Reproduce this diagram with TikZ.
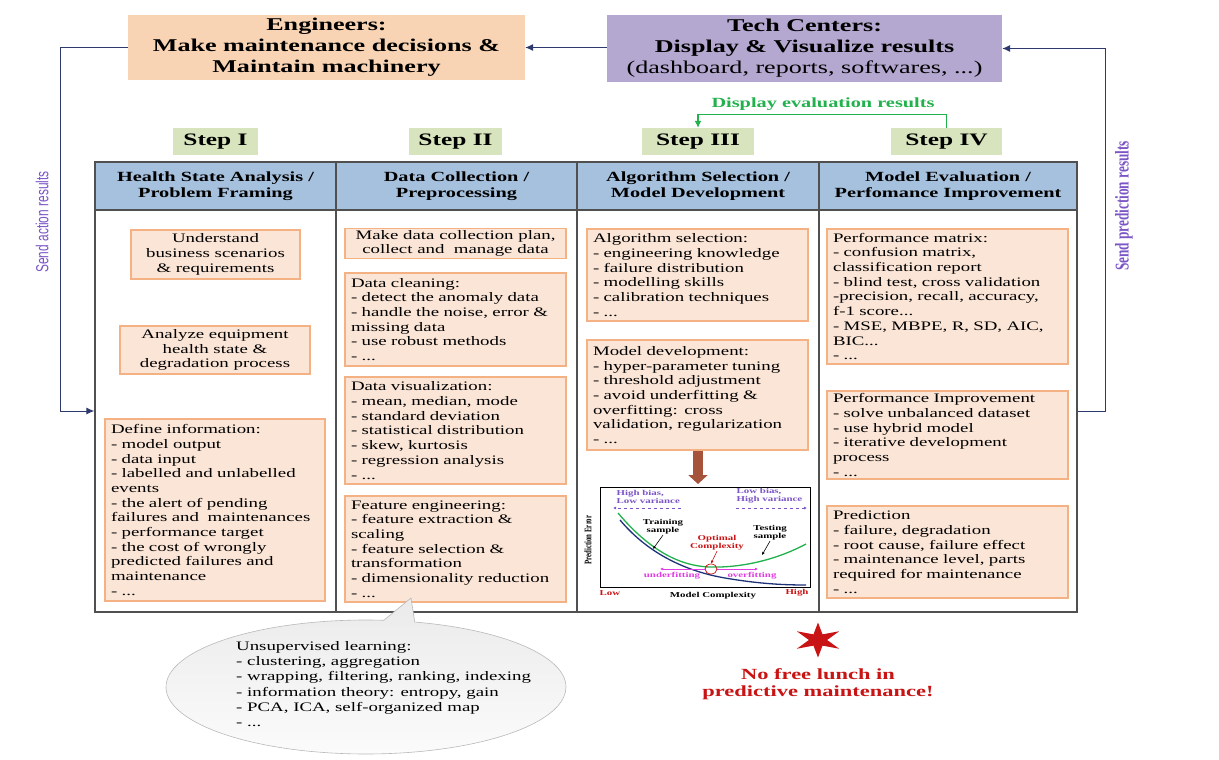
\documentclass[tikz,border=0pt]{standalone}
\usepackage{fontspec}
\setmainfont{Liberation Serif}[FakeStretch=1.45]
\newfontfamily\rotsans{Liberation Sans}[FakeStretch=0.68]
\newfontfamily\rotserif{Liberation Serif}[FakeStretch=0.68]
\usetikzlibrary{arrows.meta,shapes.callouts,shapes.geometric}
\definecolor{peach}{RGB}{248,212,180}
\definecolor{lav}{RGB}{180,167,208}
\definecolor{stepg}{RGB}{215,228,189}
\definecolor{hdrblue}{RGB}{166,193,221}
\definecolor{boxfill}{RGB}{251,229,214}
\definecolor{boxline}{RGB}{244,177,131}
\definecolor{navy}{RGB}{46,58,110}
\definecolor{purp}{RGB}{123,85,197}
\definecolor{greenc}{RGB}{34,177,76}
\definecolor{tgray}{RGB}{80,80,80}
\definecolor{brownc}{RGB}{165,83,58}
\definecolor{redc}{RGB}{200,20,20}
\definecolor{magc}{RGB}{225,60,225}
\definecolor{chartnavy}{RGB}{30,50,120}
\begin{document}
\begin{tikzpicture}[x=1pt,y=-1pt,
  topbox/.style={inner sep=0, align=center, font=\bfseries\fontsize{18}{21}\selectfont},
  stepbox/.style={fill=stepg, inner sep=0, minimum height=27, font=\bfseries\fontsize{17.5}{20}\selectfont},
  hdr/.style={draw=tgray, line width=1.4, fill=hdrblue, minimum height=48, inner sep=0, align=center, font=\bfseries\fontsize{14}{16}\selectfont},
  col/.style={draw=tgray, line width=1.4, minimum height=402, inner sep=0},
  tbox/.style={draw=boxline, fill=boxfill, line width=1.1, inner xsep=6, inner ysep=2, font=\fontsize{13}{14.7}\selectfont},
  lbox/.style={tbox, align=left},
  cbox/.style={tbox, align=center},
  arr/.style={draw=navy, line width=1, -{Latex[length=8pt,width=7pt]}},
  ch/.style={font=\bfseries\fontsize{7.5}{8}\selectfont, inner sep=0.5, align=center},
  charr/.style={-{Latex[length=3pt,width=3pt]}, line width=0.6}
]
\useasboundingbox (0,0) rectangle (1219,760);

% top boxes
\node[topbox, fill=peach, minimum width=397, minimum height=65] (eng) at (326.5,47.5)
  {Engineers:\\Make maintenance decisions \&\\Maintain machinery};
\node[topbox, fill=lav, minimum width=395, minimum height=67] (tech) at (804.5,48.5)
  {Tech Centers:\\Display \& Visualize results\\\mdseries(dashboard, reports, softwares, ...)};
\draw[arr] (tech.west |- eng.east) -- (eng.east);

% steps
\node[stepbox, minimum width=85] (s1) at (215.5,141.5) {Step I};
\node[stepbox, minimum width=93] (s2) at (455.5,141.5) {Step II};
\node[stepbox, minimum width=112] (s3) at (698,141.5) {Step III};
\node[stepbox, minimum width=111] (s4) at (946.5,141.5) {Step IV};
\draw[greenc, line width=1.2, -{Latex[length=7pt,width=7pt]}] (s4.north) -- ++(0,-13) -| (s3.north);
\node[text=greenc, font=\bfseries\fontsize{14}{16}\selectfont, inner sep=0] (dev) at (823,104) {Display evaluation results};

% table columns
\node[col, minimum width=241] (c1) at (215.5,411) {};
\node[col, minimum width=241] (c2) at (456.5,411) {};
\node[col, minimum width=242] (c3) at (698,411) {};
\node[col, minimum width=258] (c4) at (948,411) {};
\node[hdr, minimum width=241] (h1) at (215.5,186) {Health State Analysis /\\Problem Framing};
\node[hdr, minimum width=241] (h2) at (456.5,186) {Data Collection /\\Preprocessing};
\node[hdr, minimum width=242] (h3) at (698,186) {Algorithm Selection /\\Model Development};
\node[hdr, minimum width=258] (h4) at (948,186) {Model Evaluation /\\Perfomance Improvement};

% loops
\draw[arr] (eng.west) -- ++(-67,0) |- (c1.west);
\draw[arr] (c4.east) -- ++(28,0) |- (tech.east);
\node[rotate=90, text=purp, inner sep=0, font=\rotsans\fontsize{17.5}{17.5}\selectfont] (sar) at (42,222) {Send action results};
\node[rotate=90, text=purp, inner sep=0, font=\rotserif\bfseries\fontsize{19.5}{19.5}\selectfont] (spr) at (1124,206) {Send prediction results};

% column 1
\node[cbox, minimum width=169, minimum height=49] (b1a) at (215.5,254.5)
  {Understand\\business scenarios\\\& requirements};
\node[cbox, minimum width=190, minimum height=48] (b1b) at (215,350)
  {Analyze equipment\\health state \&\\degradation process};
\node[lbox, text width=208, minimum height=182] (b1c) at (215,510)
  {Define information:\\- model output\\- data input\\- labelled and unlabelled\\events\\- the alert of pending\\failures and\ \ maintenances\\- performance target\\- the cost of wrongly\\predicted failures and\\maintenance\\- ...};

% column 2
\node[cbox, minimum width=221, minimum height=29] (b2a) at (455.5,243.5)
  {Make data collection plan,\\collect and\ \ manage data};
\node[lbox, text width=209, minimum height=93] (b2b) at (455.5,319.5)
  {Data cleaning:\\- detect the anomaly data\\- handle the noise, error \&\\missing data\\- use robust methods\\- ...};
\node[lbox, text width=209, minimum height=107] (b2c) at (455.5,430.5)
  {Data visualization:\\- mean, median, mode\\- standard deviation\\- statistical distribution\\- skew, kurtosis\\- regression analysis\\- ...};
\node[lbox, text width=209, minimum height=106] (b2d) at (455.5,549)
  {Feature engineering:\\- feature extraction \&\\scaling\\- feature selection \&\\transformation\\- dimensionality reduction\\- ...};

% column 3
\node[lbox, text width=209, minimum height=92] (b3a) at (697.5,275)
  {Algorithm selection:\\- engineering knowledge\\- failure distribution\\- modelling skills\\- calibration techniques\\- ...};
\node[lbox, text width=209, minimum height=110] (b3b) at (697.5,395)
  {Model development:\\- hyper-parameter tuning\\- threshold adjustment\\- avoid underfitting \&\\overfitting: cross\\validation, regularization\\- ...};

% column 4
\node[lbox, text width=229, minimum height=135] (b4a) at (947.5,296.5)
  {Performance matrix:\\- confusion matrix,\\classification report\\- blind test, cross validation\\-precision, recall, accuracy,\\f-1 score...\\- MSE, MBPE, R, SD, AIC,\\BIC...\\- ...};
\node[lbox, text width=229, minimum height=88] (b4b) at (947.5,435)
  {Performance Improvement\\- solve unbalanced dataset\\- use hybrid model\\- iterative development\\process\\- ...};
\node[lbox, text width=229, minimum height=92] (b4c) at (947.5,552)
  {Prediction\\- failure, degradation\\- root cause, failure effect\\- maintenance level, parts\\required for maintenance\\- ...};

% brown arrow to chart
\coordinate (chtop) at (698,484);
\draw[brownc, line width=10, -{Triangle[length=9pt,width=19pt]}] (b3b.south -| chtop) -- (chtop);

% chart
\draw[line width=0.7] (600,487) rectangle (810,587);
\draw[greenc, line width=1.3] (618,513) .. controls (645,545) and (675,566) .. (710,567) .. controls (745,568) and (780,558) .. (806,544);
\draw[chartnavy, line width=1.3] (620,520) .. controls (650,556) and (690,572) .. (725,578) .. controls (760,584) and (785,585) .. (806,585);
\node[ch, text=purp, anchor=west, align=left] (hb) at (616,497) {High bias,\\Low variance};
\node[ch, text=purp, anchor=west, align=left] (lbv) at (736,496) {Low bias,\\High variance};
\coordinate (hbe) at (613,508);
\coordinate (lbe) at (807,508);
\draw[purp, dashed, charr] (hb.south east |- hbe) -- (hbe);
\draw[purp, dashed, charr] (lbv.south west |- lbe) -- (lbe);
\node[ch] (trs) at (663,527) {Training\\sample};
\coordinate (trp) at (653,549);
\draw[charr] (trs.south) -- (trp);
\node[ch] (tes) at (770,533) {Testing\\sample};
\coordinate (tep) at (762,555);
\draw[charr] (tes.south) -- (tep);
\node[ch, text=redc] (opt) at (717,543) {Optimal\\Complexity};
\node[draw=redc, ellipse, minimum width=12, minimum height=10, inner sep=0, line width=0.7] (optc) at (711,569) {};
\draw[redc, charr] (opt.south) -- (optc.north);
\coordinate (ufe) at (660,569);
\coordinate (ofe) at (758,569);
\draw[magc, charr] (optc.west) -- (ufe);
\draw[magc, charr] (optc.east) -- (ofe);
\node[ch, text=magc] (uf) at (672,576) {underfitting};
\node[ch, text=magc] (of) at (752,576) {overfitting};
\node[ch, text=redc] (lowl) at (610,593) {Low};
\node[ch, text=redc] (highl) at (797,593) {High};
\node[ch] (mc) at (713,596) {Model Complexity};
\node[rotate=90, inner sep=0, font=\rotserif\bfseries\fontsize{10}{10}\selectfont] (pe) at (588,540) {Prediction Error};

% callout
\coordinate (tip) at (411,598);
\node[ellipse callout, draw=gray!55, top color=gray!16, bottom color=gray!3, line width=0.6,
  minimum width=400, minimum height=134, callout absolute pointer={(tip)}, callout pointer arc=9] (bub) at (366,687) {};
\node[anchor=west, align=left, inner sep=0, font=\fontsize{13}{15.2}\selectfont] (bubt) at (236,684)
  {Unsupervised learning:\\- clustering, aggregation\\- wrapping, filtering, ranking, indexing\\- information theory: entropy, gain\\- PCA, ICA, self-organized map\\- ...};

% star and note
\begin{scope}[shift={(818,640)}, xscale=1.4]
\fill[redc] (90:17.5) -- (120:6.5) -- (150:17.5) -- (180:6.5) -- (210:17.5) -- (240:6.5) -- (270:17.5) -- (300:6.5) -- (330:17.5) -- (0:6.5) -- (30:17.5) -- (60:6.5) -- cycle;
\end{scope}
\node[text=redc, align=center, inner sep=0, font=\bfseries\fontsize{15.5}{16.5}\selectfont] (nfl) at (818,684)
  {No free lunch in\\predictive maintenance!};
\end{tikzpicture}
\end{document}
